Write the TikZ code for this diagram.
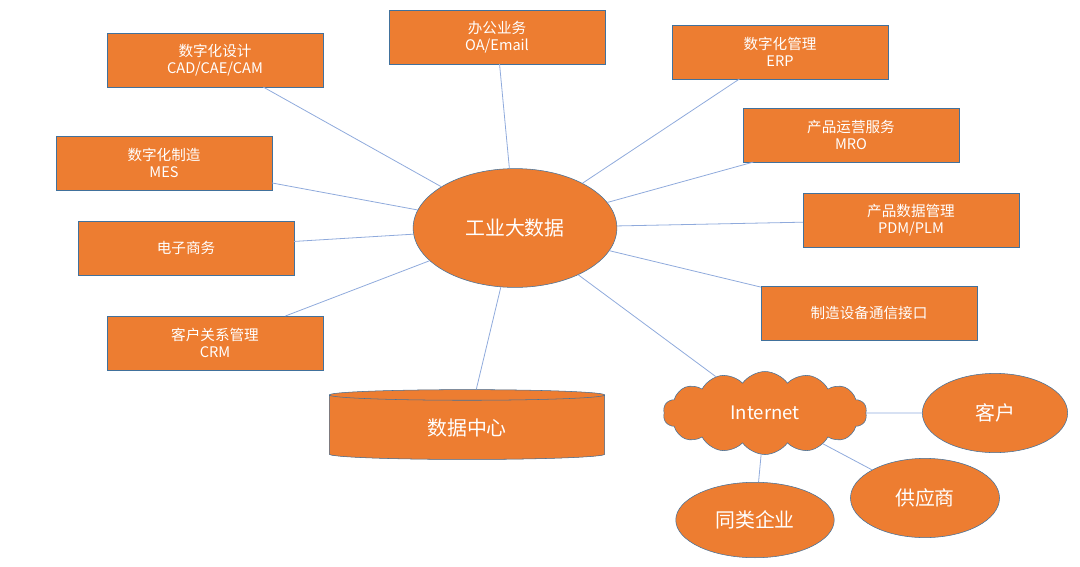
\documentclass[tikz,border=0pt]{standalone}
\usepackage{fontspec}
\setmainfont{Noto Sans CJK SC}
\usetikzlibrary{shapes.geometric,shapes.symbols}
\definecolor{boxorange}{HTML}{ED7D31}
\definecolor{linkblue}{HTML}{8FAADC}
\definecolor{rimgrey}{HTML}{41719C}
\tikzset{
  sysbox/.style={fill=boxorange, draw=rimgrey, line width=0.4pt, minimum width=5.72cm, minimum height=1.42cm, text=white, font=\fontsize{11}{13}\selectfont, align=center},
  party/.style={ellipse, fill=boxorange, draw=rimgrey, line width=0.4pt, text=white, font=\fontsize{15}{17}\selectfont},
  link/.style={draw=linkblue, line width=0.6pt}
}
\begin{document}
\begin{tikzpicture}[x=0.0265cm, y=-0.0265cm]
	\useasboundingbox (0,0) rectangle (1080,566);
	\node[party, minimum width=5.4cm, minimum height=3.15cm](hub) at (515,228) {工业大数据};
	% systems around the hub
	\node[sysbox](cad) at (215,60) {数字化设计\\CAD/CAE/CAM};
	\node[sysbox](oa) at (497,37) {办公业务\\OA/Email};
	\node[sysbox](erp) at (780,52) {数字化管理\\ERP};
	\node[sysbox](mro) at (851,135) {产品运营服务\\MRO};
	\node[sysbox](plm) at (911,220) {产品数据管理\\PDM/PLM};
	\node[sysbox](port) at (869,313) {制造设备通信接口};
	\node[sysbox](mes) at (164,163) {数字化制造\\MES};
	\node[sysbox](ebiz) at (186,248) {电子商务};
	\node[sysbox](crm) at (215,343) {客户关系管理\\CRM};
	\node[cylinder, shape border rotate=90, aspect=0.12, fill=boxorange, draw=rimgrey, line width=0.4pt,
		minimum width=7.3cm, minimum height=1.85cm, text=white, font=\fontsize{15}{17}\selectfont,
		cylinder uses custom fill, cylinder end fill=boxorange!55, cylinder body fill=boxorange](dc) at (467,428) {数据中心};
	\node[cloud, cloud puffs=14, cloud puff arc=110, aspect=2.4, fill=boxorange, draw=rimgrey, line width=0.4pt,
		minimum width=5.4cm, minimum height=2.2cm, text=white, font=\fontsize{14}{16}\selectfont](net) at (765,413) {Internet};
	\node[party, minimum width=3.85cm, minimum height=2.1cm](cust) at (995,413) {客户};
	\node[party, minimum width=3.95cm, minimum height=2.1cm](supp) at (925,498) {供应商};
	\node[party, minimum width=4.2cm, minimum height=2cm](peer) at (755,520) {同类企业};
	%links
	\foreach \s in {cad,oa,erp,mro,plm,port,mes,ebiz,crm,dc,net}
		\draw[link] (hub) -- (\s);
	\foreach \s in {cust,supp,peer}
		\draw[link] (net) -- (\s);
\end{tikzpicture}
\end{document}
